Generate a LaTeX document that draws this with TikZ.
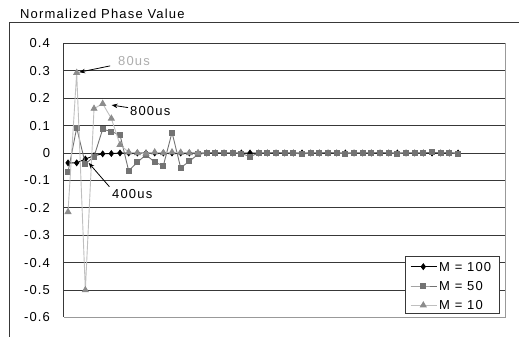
\documentclass[tikz,border=0pt]{standalone}
\usepackage{fontspec}
\setmainfont[LetterSpace=9]{Liberation Sans}
\usetikzlibrary{arrows.meta}
\usetikzlibrary{positioning}
\usetikzlibrary{plotmarks}

\definecolor{gridgray}{gray}{0.22}
\definecolor{edgegray}{gray}{0.6}
\definecolor{m50gray}{gray}{0.45}
\definecolor{m10gray}{gray}{0.75}
\definecolor{m10mark}{gray}{0.55}
\definecolor{notegray}{gray}{0.68}

\tikzset{
    grid line/.style={draw=gridgray, line width=0.9pt},
    series100/.style={black, line width=0.9pt, mark=diamond*, mark size=2.8pt},
    series50/.style={m50gray, line width=0.9pt, mark=square*, mark size=2.5pt},
    series10/.style={m10gray, line width=0.9pt, mark=triangle*, mark size=3.3pt, mark options={draw=m10mark, fill=m10mark}},
    note/.style={-{Stealth[length=6pt, width=4.5pt]}, black, line width=0.8pt},
    label text/.style={inner sep=0pt},
}

\begin{document}
\begin{tikzpicture}[x=1pt, y=-1pt, font=\fontsize{13}{15}\selectfont]
    \useasboundingbox (0,0) rectangle (519,337);

    % chart area, cut off at the right and bottom
    \draw[gridgray, line width=0.9pt](9.5,337)--(9.5,22.5)--(519,22.5);
    \node[label text, anchor=base west](title) at (20,18.3){Normalized Phase Value};

    \begin{scope}[shift={(59.35pt,-153pt)}, x=8.667pt, y=274pt]
        \foreach \v [count=\k] in {0.4,0.3,0.2,0.1,0,-0.1,-0.2,-0.3,-0.4,-0.5,-0.6}{
            \coordinate (g\k) at (0.5,\v);
            \node[label text, left=13.5pt of g\k](tick\k){\v};
        }
        \foreach \v in {0.4,0.3,0.2,0.1,0,-0.1,-0.2,-0.3,-0.4,-0.5}{
            \draw[grid line](0.5,\v)--(51.5,\v);
        }
        \draw[edgegray, line width=0.9pt](51.5,0.4)--(51.5,-0.6)--(0.5,-0.6);
        \draw[grid line](0.5,0.4)--(0.5,-0.6);

        % M = 100
        \draw[series100] plot coordinates {(1,-0.036) (2,-0.036) (3,-0.022) (4,-0.01) (5,-0.003) (6,-0.002) (7,0)}
            -- plot[domain=8:46, samples=39] (\x,0);

        % M = 50
        \draw[series50] plot coordinates {(1,-0.07) (2,0.092) (3,-0.04) (4,-0.013) (5,0.087) (6,0.078) (7,0.066)
            (8,-0.065) (9,-0.034) (10,-0.006) (11,-0.034) (12,-0.046) (13,0.075) (14,-0.054) (15,-0.03) (16,-0.005)
            (17,0) (18,0.002) (19,0) (20,0) (21,-0.002) (22,-0.013) (23,0) (24,0) (25,0.002) (26,0) (27,0)
            (28,-0.004) (29,0) (30,0) (31,0.002) (32,0) (33,-0.003) (34,0) (35,0) (36,0) (37,0.002) (38,0)
            (39,-0.002) (40,0) (41,0) (42,0) (43,0.003) (44,0) (45,0.002) (46,-0.004)};

        % M = 10
        \draw[series10] plot coordinates {(1,-0.215) (2,0.293) (3,-0.5) (4,0.162) (5,0.18) (6,0.126) (7,0.03)
            (8,0.003) (9,0) (10,-0.002) (11,0.003) (12,0) (13,0.003) (14,0.002) (15,0) (16,0)};

        \coordinate (d80) at (2,0.293);
        \coordinate (d800) at (5,0.18);
        \coordinate (d400) at (3,-0.022);
    \end{scope}

    % notes
    \node[label text, text=notegray, anchor=west](lbl80) at (118,61){80us};
    \node[label text, anchor=west](lbl800) at (130,111){800us};
    \node[label text, anchor=west](lbl400) at (112,194.5){400us};
    \draw[note, shorten <=8pt, shorten >=2.5pt](lbl80)--(d80);
    \draw[note, shorten <=2pt, shorten >=9pt](lbl800)--(d800);
    \draw[note, shorten <=4pt, shorten >=5pt](lbl400.north west)--(d400);

    % legend
    \node[draw=gridgray, fill=white, line width=0.9pt, minimum width=93.6pt, minimum height=57.3pt, inner sep=0pt](legend) at (452.5,284.65){};
    \node[label text, anchor=west](key100) at (439,266.7){M = 100};
    \node[label text, anchor=west](key50) at (439,286){M = 50};
    \node[label text, anchor=west](key10) at (439,305.3){M = 10};
    \draw[series100, mark indices={2}] plot coordinates {(410.7,266.7) (423.3,266.7) (436.7,266.7)};
    \draw[series50, mark indices={2}] plot coordinates {(410.7,286) (423.3,286) (436.7,286)};
    \draw[series10, mark indices={2}] plot coordinates {(410.7,305.3) (423.3,305.3) (436.7,305.3)};

\end{tikzpicture}
\end{document}
